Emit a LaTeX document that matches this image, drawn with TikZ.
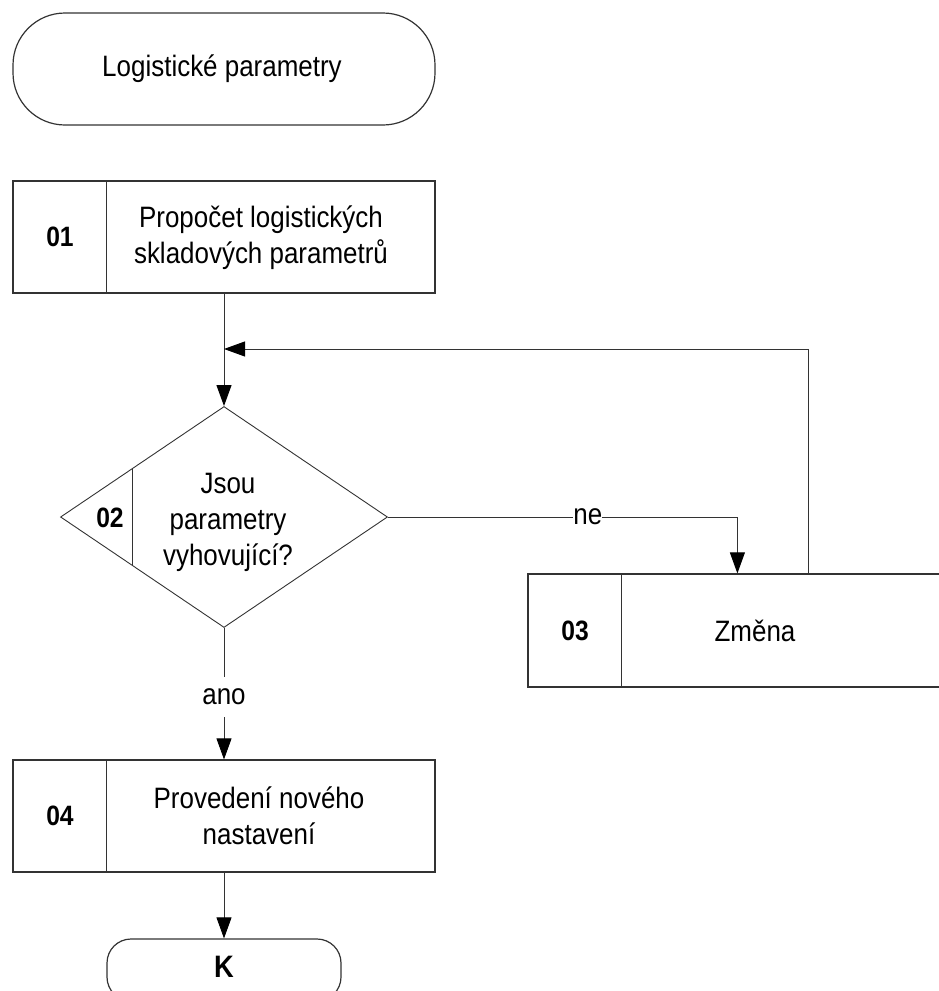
\documentclass[tikz,border=0pt]{standalone}
\usepackage{fontspec}
\setmainfont{Liberation Sans}[FakeStretch=0.88]
\usetikzlibrary{shapes.geometric,arrows.meta,calc}
\begin{document}
\begin{tikzpicture}[x=1pt,y=-1pt,
  outline/.style={draw=black!80,line width=1.2pt,inner sep=0pt},
  thinline/.style={draw=black!80,line width=0.9pt},
  txt/.style={font=\fontsize{29.5}{36}\selectfont,align=center,inner sep=0pt},
  num/.style={font=\fontsize{28}{30}\selectfont\bfseries,inner sep=0pt},
  flow/.style={draw=black!80,line width=0.9pt,-{Triangle[length=21pt,width=15pt,color=black]}},
  lbl/.style={fill=white,inner xsep=0pt,inner ysep=0pt,minimum height=40pt,
              font=\fontsize{29.5}{32}\selectfont}]
\useasboundingbox (0,0) rectangle (939,991);
\clip (0,0) rectangle (939,991);

% start terminal
\node[outline,rounded corners=52pt,minimum width=422pt,minimum height=112pt] (start) at (224,69) {};
\node[txt] (startT) at (222,69) {Logistické parametry};

% step 01
\node[outline,minimum width=422pt,minimum height=112pt] (b01) at (224,237) {};
\draw[outline] ([xshift=94pt]b01.north west) -- ([xshift=94pt]b01.south west);
\node[num] (n01) at (60,237) {01};
\node[txt] (t01) at (261,238) {Propočet logistických\\skladových parametrů};

% decision 02
\node[thinline,diamond,inner sep=0pt,minimum width=327pt,minimum height=221pt] (d02) at (224,517) {};
\draw[thinline] ($(d02.west)!0.439!(d02.north)$) -- ($(d02.west)!0.439!(d02.south)$);
\node[num] (n02) at (110,518) {02};
\node[txt,font=\fontsize{29.5}{36}\selectfont] (t02) at (228,522) {Jsou\\parametry\\vyhovující?};

% step 03
\node[outline,minimum width=472pt,minimum height=113pt] (b03) at (764,630.5) {};
\draw[outline] ([xshift=94pt]b03.north west) -- ([xshift=94pt]b03.south west);
\node[num] (n03) at (575,631) {03};
\node[txt] (t03) at (755,631) {Změna};

% step 04
\node[outline,minimum width=422pt,minimum height=112pt] (b04) at (224,816) {};
\draw[outline] ([xshift=94pt]b04.north west) -- ([xshift=94pt]b04.south west);
\node[num] (n04) at (60,816) {04};
\node[txt] (t04) at (259,816) {Provedení nového\\nastavení};

% end terminal
\node[outline,rounded corners=24pt,minimum width=234pt,minimum height=62pt] (kend) at (224,970) {};
\node[num,font=\fontsize{31}{32}\selectfont\bfseries] (kT) at (224,967) {K};

% connectors
\coordinate (merge) at (224,349);
\draw[flow] (b01.south) -- (d02.north);
\draw[flow] ([xshift=281pt]b03.north west) |- (merge);
\draw[flow] (d02.east) -| ([xshift=210pt]b03.north west) node[lbl,pos=0.286] {ne};
\draw[flow] (d02.south) -- (b04.north) node[lbl,pos=0.526] {ano};
\draw[flow] (b04.south) -- (kend.north);
\end{tikzpicture}
\end{document}
